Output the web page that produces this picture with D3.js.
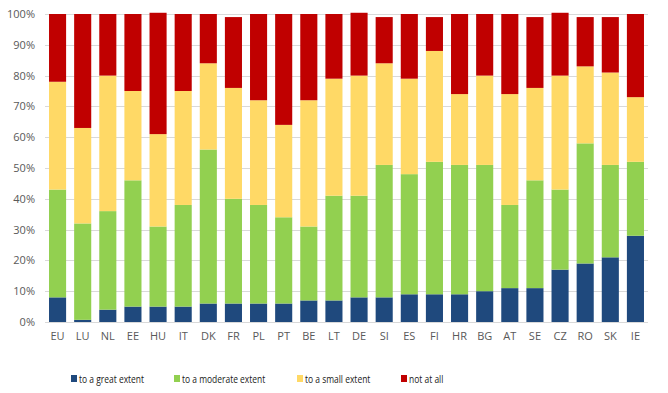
<!DOCTYPE html>
<html>
<head>
<meta charset="utf-8">
<script src="https://cdn.jsdelivr.net/npm/d3@7"></script>
<style>
  body { margin: 0; background: #fff; }
  svg text { font-family: "Open Sans", sans-serif; fill: #595959; }
</style>
</head>
<body>
<div id="chart"></div>
<script>
// countries in display order
const countries = ["EU","LU","NL","EE","HU","IT","DK","FR","PL","PT","BE","LT","DE","SI","ES","FI","HR","BG","AT","SE","CZ","RO","SK","IE"];

// shares per answer (percent)
const greatExtent    = [8, 0.7, 4, 5, 5, 5, 6, 6, 6, 6, 7, 7, 8, 8, 9, 9, 9, 10, 11, 11, 17, 19, 21, 28];
const moderateExtent = [35, 31.3, 32, 41, 26, 33, 50, 34, 32, 28, 24, 34, 33, 43, 39, 43, 42, 41, 27, 35, 26, 39, 30, 24];
const smallExtent    = [35, 31, 44, 29, 30, 37, 28, 36, 34, 30, 41, 38, 39, 33, 31, 36, 23, 29, 36, 30, 37, 25, 30, 21];
const notAtAll       = [22, 37, 20, 25, 39.4, 25, 16, 23, 28, 36, 28, 21, 20.4, 15, 21, 11, 26, 20, 26, 23, 20.4, 16, 18, 27];

const seriesNames = ["to a great extent", "to a moderate extent", "to a small extent", "not at all"];
const seriesColors = ["#1F497D", "#92D050", "#FFD966", "#C00000"];
const yTicks = [0, 10, 20, 30, 40, 50, 60, 70, 80, 90, 100];

const width = 668, height = 393;
const margin = {top: 14, right: 20, bottom: 71, left: 45};

const svg = d3.select("#chart").append("svg")
  .attr("width", width)
  .attr("height", height);

// build rows for the stack
let rows = countries.map((c, i) => ({
  country: c,
  "to a great extent": greatExtent[i],
  "to a moderate extent": moderateExtent[i],
  "to a small extent": smallExtent[i],
  "not at all": notAtAll[i]
}));
let stacked = d3.stack().keys(seriesNames)(rows);

let x = d3.scaleBand()
  .domain(countries)
  .range([margin.left, width - margin.right])
  .paddingInner(0.32)
  .paddingOuter(0.16);

let y = d3.scaleLinear()
  .domain([0, 100])
  .range([height - margin.bottom, margin.top]);

// gridlines
svg.append("g")
  .selectAll("line")
  .data(yTicks)
  .enter()
  .append("line")
  .attr("x1", margin.left)
  .attr("x2", width - margin.right)
  .attr("y1", d => Math.round(y(d)) + 0.5)
  .attr("y2", d => Math.round(y(d)) + 0.5)
  .attr("stroke", "#D9D9D9")
  .attr("stroke-width", 1);

// bars
svg.append("g")
  .selectAll("g")
  .data(stacked)
  .enter()
  .append("g")
  .attr("fill", (d, i) => seriesColors[i])
  .selectAll("rect")
  .data(d => d)
  .enter()
  .append("rect")
  .attr("x", d => x(d.data.country))
  .attr("width", x.bandwidth())
  .attr("y", d => y(d[1]))
  .attr("height", d => y(d[0]) - y(d[1]));

// y axis
let yAxis = d3.axisLeft(y)
  .tickValues(yTicks)
  .tickFormat(d => d + "%")
  .tickSize(0)
  .tickPadding(8);
svg.append("g")
  .attr("transform", "translate(" + (margin.left - 2) + ",0)")
  .call(yAxis)
  .call(g => g.select(".domain").remove())
  .selectAll("text")
  .style("font-size", "11px")
  .style("fill", "#595959");

// x axis
let xAxis = d3.axisBottom(x).tickSize(0).tickPadding(10);
svg.append("g")
  .attr("transform", "translate(0," + (height - margin.bottom) + ")")
  .call(xAxis)
  .call(g => g.select(".domain").remove())
  .selectAll("text")
  .style("font-size", "11px")
  .style("fill", "#595959");

// legend (text squeezed a bit to mimic the narrow original font)
let legendX = [71, 174, 297, 401];
let legend = svg.append("g")
  .selectAll("g")
  .data(seriesNames)
  .enter()
  .append("g")
  .attr("transform", (d, i) => "translate(" + legendX[i] + ",375)");
legend.append("rect")
  .attr("width", 6)
  .attr("height", 7)
  .attr("fill", (d, i) => seriesColors[i]);
legend.append("text")
  .attr("transform", "translate(8,7.5) scale(0.77,1)")
  .text(d => d)
  .style("font-size", "11px")
  .style("fill", "#1a1a1a");
</script>
</body>
</html>
